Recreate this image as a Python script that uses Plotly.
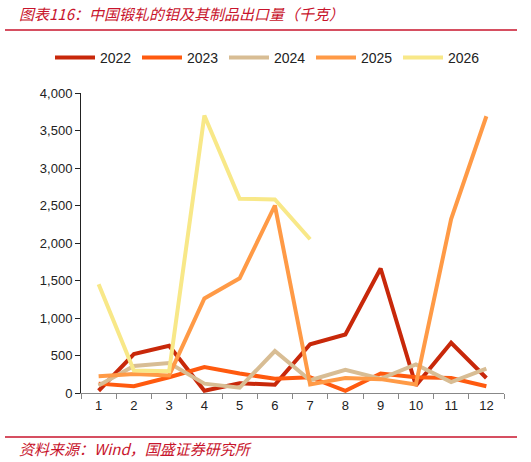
import plotly.graph_objs as go

# 中国锻轧的钼及其制品出口量（千克）
months = ['1', '2', '3', '4', '5', '6', '7', '8', '9', '10', '11', '12']
y2022 = [30, 520, 630, 30, 130, 110, 650, 780, 1660, 100, 670, 200]
y2023 = [125, 90, 210, 345, 260, 190, 210, 30, 260, 210, 200, 90]
y2024 = [100, 360, 400, 125, 70, 560, 170, 310, 190, 380, 145, 325]
y2025 = [225, 255, 235, 1260, 1530, 2500, 115, 200, 185, 115, 2320, 3690]
y2026 = [1450, 300, 290, 3700, 2590, 2580, 2050]

series = [
    ('2022', y2022, '#C8280A'),
    ('2023', y2023, '#FF5A0F'),
    ('2024', y2024, '#D8BD94'),
    ('2025', y2025, '#FF9A46'),
    ('2026', y2026, '#F8E888'),
]

RED = '#C8142C'

traces = []
for name, vals, color in series:
    traces.append(go.Scatter(
        x=months[:len(vals)],
        y=vals,
        name=name,
        mode='lines',
        line={'color': color, 'width': 4},
    ))

# plot area: x 81..504, y 93..393 px
def px(x):
    return (x - 81) / 423.0

def py(y):
    return (393 - y) / 300.0

layout = go.Layout(
    width=531,
    height=462,
    margin={'l': 81, 'r': 27, 't': 93, 'b': 69, 'autoexpand': False},
    paper_bgcolor='white',
    plot_bgcolor='white',
    font={'family': 'Liberation Sans, Arial', 'size': 13, 'color': '#222222'},
    showlegend=True,
    legend={
        'orientation': 'h',
        'xref': 'paper', 'yref': 'paper',
        'x': px(50), 'xanchor': 'left',
        'y': py(58), 'yanchor': 'middle',
        'font': {'size': 14, 'color': '#222222'},
        'entrywidth': 32,
        'entrywidthmode': 'pixels',
        'itemwidth': 40,
        'tracegroupgap': 0,
    },
    xaxis={
        'type': 'category',
        'range': [-0.5, 11.5],
        'showline': True,
        'linecolor': '#888888',
        'linewidth': 1,
        'ticks': 'outside',
        'tickson': 'boundaries',
        'ticklen': 5,
        'tickcolor': '#888888',
        'showgrid': False,
        'zeroline': False,
        'tickfont': {'size': 13},
    },
    yaxis={
        'range': [0, 4000],
        'dtick': 500,
        'tickformat': ',',
        'showline': True,
        'linecolor': '#222222',
        'linewidth': 1,
        'ticks': 'outside',
        'ticklen': 5,
        'tickcolor': '#222222',
        'showgrid': False,
        'zeroline': False,
        'tickfont': {'size': 13},
    },
    shapes=[
        {'type': 'line', 'xref': 'paper', 'yref': 'paper',
         'x0': px(5), 'x1': px(517), 'y0': py(30), 'y1': py(30),
         'line': {'color': RED, 'width': 1.5}},
        {'type': 'line', 'xref': 'paper', 'yref': 'paper',
         'x0': px(5), 'x1': px(517), 'y0': py(437), 'y1': py(437),
         'line': {'color': RED, 'width': 1.5}},
    ],
    annotations=[
        {'text': '<i>图表116：中国锻轧的钼及其制品出口量（千克）</i>',
         'xref': 'paper', 'yref': 'paper', 'x': px(17), 'y': py(14),
         'xanchor': 'left', 'yanchor': 'middle', 'showarrow': False,
         'font': {'family': 'Noto Sans CJK SC', 'size': 15, 'color': RED}},
        {'text': '<i>资料来源：Wind，国盛证券研究所</i>',
         'xref': 'paper', 'yref': 'paper', 'x': px(17), 'y': py(448),
         'xanchor': 'left', 'yanchor': 'middle', 'showarrow': False,
         'font': {'family': 'Noto Sans CJK SC', 'size': 15, 'color': RED}},
    ],
)

fig = go.Figure(data=traces, layout=layout)
# page body has a default margin; drop it so the figure fills the window
fig.write_html("out.html", config={'displayModeBar': False},
               post_script="document.body.style.margin='0px';")
